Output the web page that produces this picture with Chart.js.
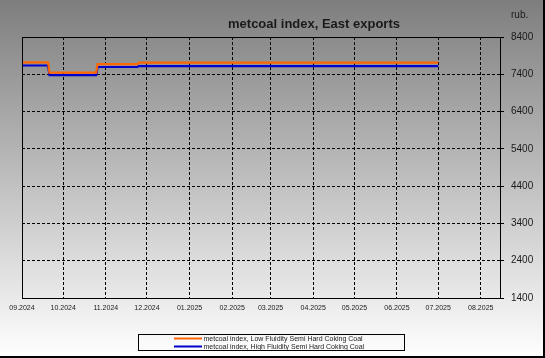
<!DOCTYPE html>
<html>
<head>
<meta charset="utf-8">
<script src="https://cdn.jsdelivr.net/npm/chart.js@4.4.0/dist/chart.umd.min.js"></script>
<style>
html,body{margin:0;padding:0;background:#fff;}
canvas{display:block;}
</style>
</head>
<body>
<canvas id="c" width="545" height="358"></canvas>
<script>
// ---- data ----
const chartTitle = 'metcoal index, East exports';
const unitLabel = 'rub.';
const seriesNames = [
  'metcoal index, Low Fluidity Semi Hard Coking Coal',
  'metcoal index, High Fluidity Semi Hard Coking Coal'
];
const seriesColors = ['#ff6600', '#0000cc'];
const dates = ['2024-09-01','2024-09-20','2024-09-21','2024-10-25','2024-10-26','2024-11-24','2024-11-25','2025-07-01'];
const lowFluidity  = [7720, 7720, 7445, 7445, 7675, 7675, 7715, 7715];
const highFluidity = [7635, 7635, 7375, 7375, 7595, 7595, 7620, 7620];
const monthTicks = ['2024-09-01','2024-10-01','2024-11-01','2024-12-01','2025-01-01','2025-02-01','2025-03-01','2025-04-01','2025-05-01','2025-06-01','2025-07-01','2025-08-01'];
const monthLabels = ['09.2024','10.2024','11.2024','12.2024','01.2025','02.2025','03.2025','04.2025','05.2025','06.2025','07.2025','08.2025'];
const axisStart = '2024-09-01';
const axisEnd = '2025-08-15';
const yTicks = [1400, 2400, 3400, 4400, 5400, 6400, 7400, 8400];

// ---- helpers ----
const DAY = 86400000;
const t0 = Date.parse(axisStart + 'T00:00:00Z');
const dayOf = s => (Date.parse(s + 'T00:00:00Z') - t0) / DAY;
const tickDays = monthTicks.map(dayOf);
const FONT = '"Liberation Sans", Arial, sans-serif';

const bgPlugin = {
  id: 'bg',
  beforeDraw(chart) {
    const ctx = chart.ctx, w = chart.width, h = chart.height;
    const g = ctx.createLinearGradient(0, 0, 0, h);
    g.addColorStop(0, '#7e7e7e');
    g.addColorStop(1, '#ffffff');
    ctx.save();
    ctx.fillStyle = g;
    ctx.fillRect(0, 0, w, h);
    ctx.restore();
  },
  afterDraw(chart) {
    const ctx = chart.ctx, a = chart.chartArea, w = chart.width, h = chart.height;
    ctx.save();
    // plot frame
    ctx.strokeStyle = '#000';
    ctx.lineWidth = 1;
    ctx.setLineDash([]);
    ctx.strokeRect(Math.round(a.left) + 0.5, Math.round(a.top) + 0.5, Math.round(a.right - a.left), Math.round(a.bottom - a.top));
    // outer border (right/bottom)
    ctx.fillStyle = '#000';
    ctx.fillRect(w - 2, 0, 2, h);
    ctx.fillRect(0, h - 2, w, 2);
    // title
    ctx.fillStyle = '#1a1a1a';
    ctx.font = 'bold 13px ' + FONT;
    ctx.textAlign = 'center';
    ctx.textBaseline = 'middle';
    ctx.fillText(chartTitle, 314, 24);
    // unit
    ctx.font = '10px ' + FONT;
    ctx.textAlign = 'left';
    ctx.fillText(unitLabel, 511, 15);
    // legend
    const lx = 138, ly = 334, lw = 266, lh = 16;
    ctx.strokeStyle = '#000';
    ctx.lineWidth = 1;
    ctx.strokeRect(lx + 0.5, ly + 0.5, lw, lh);
    ctx.font = '7px ' + FONT;
    ctx.textBaseline = 'middle';
    chart.data.datasets.forEach((ds, i) => {
      const y = ly + 4.5 + i * 8;
      ctx.strokeStyle = ds.borderColor;
      ctx.lineWidth = 2;
      ctx.beginPath();
      ctx.moveTo(174, y);
      ctx.lineTo(202, y);
      ctx.stroke();
      ctx.fillStyle = '#1a1a1a';
      ctx.fillText(ds.label, 203.5, y + 0.5);
    });
    ctx.restore();
  }
};

const mk = vals => dates.map((d, i) => ({ x: dayOf(d), y: vals[i] }));

new Chart(document.getElementById('c'), {
  type: 'line',
  data: {
    datasets: [
      { label: seriesNames[0], data: mk(lowFluidity), borderColor: seriesColors[0], borderWidth: 2.2, pointRadius: 0, tension: 0, fill: false },
      { label: seriesNames[1], data: mk(highFluidity), borderColor: seriesColors[1], borderWidth: 2.2, pointRadius: 0, tension: 0, fill: false }
    ]
  },
  options: {
    responsive: false,
    animation: false,
    devicePixelRatio: 1,
    layout: { padding: { left: 22, top: 37, right: 0, bottom: 0 } },
    plugins: { legend: { display: false }, title: { display: false }, tooltip: { enabled: false } },
    scales: {
      x: {
        type: 'linear',
        min: 0,
        max: dayOf(axisEnd),
        afterBuildTicks: s => { s.ticks = tickDays.map(v => ({ value: v })); },
        afterFit: s => { s.height = 60; },
        grid: { color: '#000', lineWidth: 1, drawTicks: false },
        border: { display: true, color: '#000', dash: [3, 2] },
        ticks: {
          autoSkip: false, maxRotation: 0, minRotation: 0, padding: 6,
          color: '#1a1a1a', font: { family: FONT, size: 7 },
          callback: v => { const i = tickDays.indexOf(v); return i >= 0 ? monthLabels[i] : ''; }
        }
      },
      y: {
        position: 'right',
        min: yTicks[0],
        max: yTicks[yTicks.length - 1],
        afterBuildTicks: s => { s.ticks = yTicks.map(v => ({ value: v })); },
        afterFit: s => { s.width = 45; },
        grid: { color: '#000', lineWidth: 1, drawTicks: true, tickLength: 4, tickBorderDash: [], tickColor: '#000' },
        border: { display: true, color: '#000', dash: [3, 2] },
        ticks: {
          padding: 7, color: '#1a1a1a', font: { family: FONT, size: 10 },
          callback: v => String(v)
        }
      }
    }
  },
  plugins: [bgPlugin]
});

// dashed grid lines
Chart.defaults.borderColor = '#000';
</script>
</body>
</html>
